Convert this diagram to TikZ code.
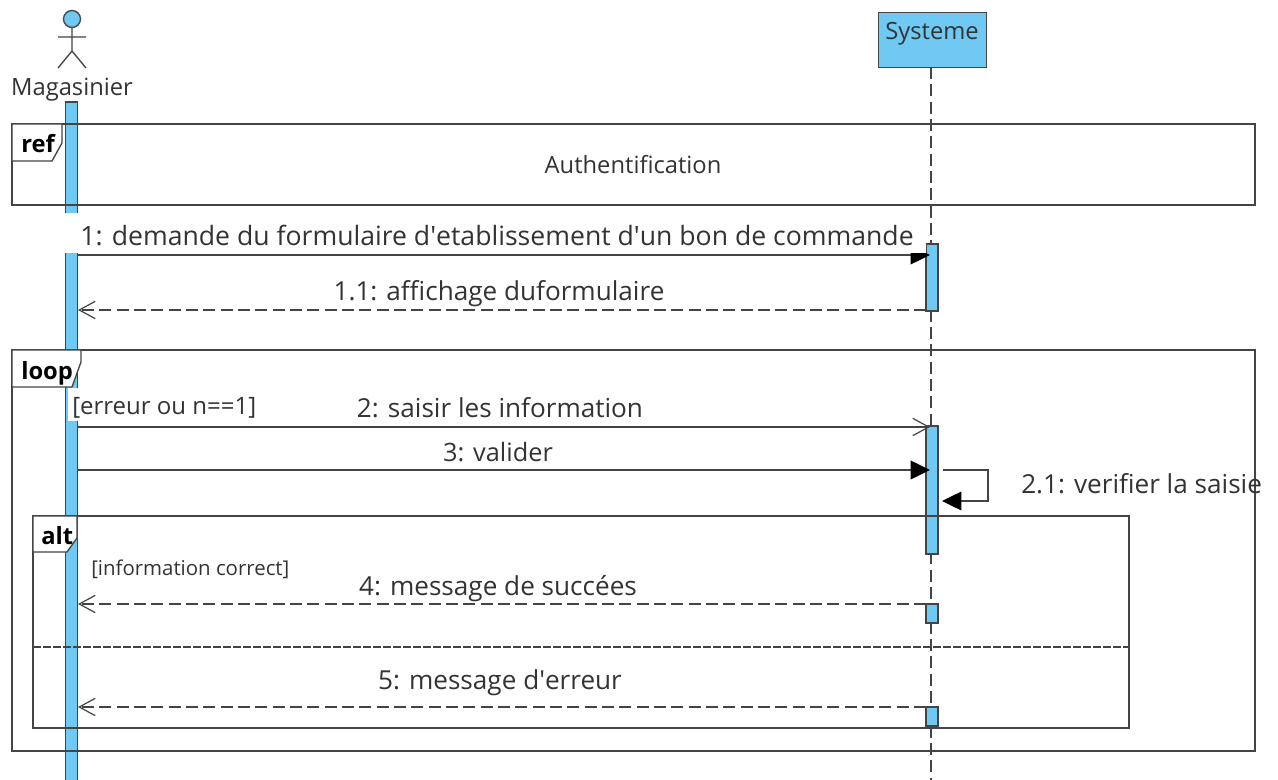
\documentclass[tikz,border=0pt]{standalone}
\usepackage{fontspec}
\setmainfont{Open Sans}
\usetikzlibrary{arrows.meta}
\definecolor{actfill}{HTML}{6FC9F2}
\definecolor{ink}{HTML}{444444}
\definecolor{txt}{HTML}{333333}
\newcommand{\fs}[1]{\fontsize{#1}{#1}\selectfont}
\tikzset{
  x=0.75pt,y=-0.75pt,
  ln/.style={draw=ink,line width=1pt},
  bar/.style={draw=ink,line width=1pt,fill=actfill},
  frameb/.style={draw=ink,line width=1pt},
  tab/.style={draw=ink,line width=1pt,fill=white},
  msg/.style={draw=ink,line width=1pt},
  rep/.style={draw=ink,line width=1pt,dash pattern=on 9pt off 4pt},
  openhead/.style={-{Straight Barb[length=12pt,width=13pt,line width=0.9pt]}},
  solidhead/.style={-{Triangle[length=14.5pt,width=14pt,fill=black,color=black]}},
  mlabel/.style={font=\fs{19.6},text=txt,inner sep=0pt,anchor=base},
  nlabel/.style={font=\fs{17.8},text=txt,inner sep=0pt,anchor=base},
  glabel/.style={font=\fs{18},text=txt,inner sep=0pt,anchor=base west},
  tlabel/.style={font=\fs{17.8}\bfseries,text=black,inner sep=0pt,anchor=base west},
  cover/.style={fill=white,draw=none},
}
\begin{document}
\begin{tikzpicture}
\useasboundingbox (0,0) rectangle (1278,780);
% named points
\coordinate (RT) at (931,67);
\coordinate (RB) at (931,780);
\coordinate (m1a) at (78,255); \coordinate (m1b) at (930,255);
\coordinate (m11a) at (78,310); \coordinate (m11b) at (926,310);
\coordinate (m2a) at (78,427); \coordinate (m2b) at (930,427);
\coordinate (m3a) at (78,470); \coordinate (m3b) at (930,470);
\coordinate (m4a) at (78,604); \coordinate (m4b) at (926,604);
\coordinate (m5a) at (78,707); \coordinate (m5b) at (926,707);
\coordinate (s1) at (943,470); \coordinate (s2) at (988,470); \coordinate (s3) at (988,501); \coordinate (s4) at (942,501);
% lifeline system
\draw[rep] (RT) -- (RB);
% left activation
\node[bar,inner sep=0pt,outer sep=0pt,anchor=north west,minimum width=9pt,minimum height=510pt] (lbar) at (65.5,102) {};
% right activations
\draw[bar] (926,244) rectangle (938,311);
\draw[bar] (926,426) rectangle (938,554);
\draw[bar] (926,604) rectangle (938,623);
\draw[bar] (926,707) rectangle (938,726);
% frames
\draw[frameb] (12,124) rectangle (1255,205);
\draw[frameb] (12,350) rectangle (1255,751);
\draw[frameb] (33,516) rectangle (1129,728);
\draw[frameb,dash pattern=on 6pt off 1.5pt] (33,647) -- (1129,647);
% cover behind labels
\fill[cover] (60,213.5) rectangle (80,253);
% tabs
\draw[tab] (12,124) -- (62,124) -- (62,143) -- (52,161) -- (12,161) -- cycle;
\draw[tab] (12,350) -- (81,350) -- (81,362) -- (72,387) -- (12,387) -- cycle;
\draw[tab] (33,516) -- (77,516) -- (77,538) -- (67,552) -- (33,552) -- cycle;
\fill[cover] (68,388) rectangle (257,421);
% messages
\draw[msg,solidhead] (m1a) -- (m1b);
\fill[cover] (78,213.5) rectangle (925.5,253.5);
\draw[rep,openhead] (m11b) -- (m11a);
\draw[msg,openhead] (m2a) -- (m2b);
\draw[msg,solidhead] (m3a) -- (m3b);
\draw[msg,solidhead] (s1) -- (s2) -- (s3) -- (s4);
\draw[rep,openhead] (m4b) -- (m4a);
\draw[rep,openhead] (m5b) -- (m5a);
% actor
\draw[ln,fill=actfill] (72,19) circle (8.5);
\draw[ln] (72,28) -- (72,51) (58,37) -- (86,37) (58,68) -- (72,51) -- (86,68);
% labels
\node[nlabel] (actor) at (72,95.5) {Magasinier};
\node[draw=ink,line width=1pt,fill=actfill,anchor=north west,inner sep=0pt,minimum width=81pt,minimum height=41.25pt] (sysbox) at (878,12) {};
\node[nlabel] (sys) at (932,40) {Systeme};
\node[tlabel] (tref) at (21,152.5) {ref};
\node[tlabel] (tloop) at (21,380) {loop};
\node[tlabel] (talt) at (41,544) {alt};
\node[nlabel] (auth) at (633,174) {Authentification};
\node[mlabel,font=\fs{19.95}] (l1) at (497,246) {1: demande du formulaire d\textquotesingle etablissement d\textquotesingle un bon de commande};
\node[mlabel] (l11) at (499,301) {1.1: affichage duformulaire};
\node[glabel] (g1) at (72,415) {[erreur ou n==1]};
\node[mlabel] (l2) at (500,417) {2: saisir les information};
\node[mlabel,font=\fs{19}] (l3) at (498,461) {3: valider};
\node[mlabel,anchor=base west] (l21) at (1021,493) {2.1: verifier la saisie};
\node[glabel,font=\fs{15.3}] (g2) at (91,575) {[information correct]};
\node[mlabel] (l4) at (498,595) {4: message de succées};
\node[mlabel] (l5) at (500,689) {5: message d\textquotesingle erreur};
\end{tikzpicture}
\end{document}
